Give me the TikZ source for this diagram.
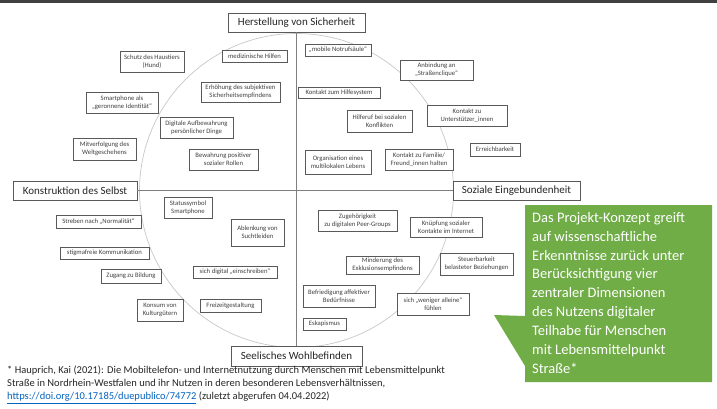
\documentclass[tikz,border=0pt]{standalone}
\usepackage{fontspec}
\setmainfont{Carlito}
\definecolor{boxline}{HTML}{595959}
\definecolor{axisgray}{HTML}{7F7F7F}
\definecolor{circgray}{HTML}{C8C8C8}
\definecolor{callgreen}{HTML}{70AD47}
\definecolor{maintext}{HTML}{262626}
\definecolor{smalltext}{HTML}{404040}
\definecolor{linkblue}{HTML}{0563C1}
\definecolor{topgray}{HTML}{404040}
\newcommand{\bxs}[6]{\node[smallbox, minimum width={#4pt-#2pt}, minimum height={#5pt-#3pt}] (#1) at ({(#2+#4)/2},{(#3+#5)/2}) {#6};}
\newcommand{\bxm}[6]{\node[mainbox, minimum width={#4pt-#2pt}, minimum height={#5pt-#3pt}] (#1) at ({(#2+#4)/2},{(#3+#5)/2}) {#6};}
\begin{document}
\begin{tikzpicture}[x=1pt,y=-1pt,
  mainbox/.style={draw=boxline, line width=0.8pt, fill=white, inner sep=0pt, font=\fontsize{11}{13}\selectfont, text=maintext},
  smallbox/.style={draw=boxline, line width=0.6pt, fill=white, inner sep=0pt, align=center, font=\fontsize{6.7}{8.1}\selectfont, text=smalltext},
  axisline/.style={draw=axisgray, line width=0.9pt},
  circline/.style={draw=circgray, line width=0.7pt},
  topline/.style={draw=topgray, line width=2.4pt},
  calltext/.style={inner sep=0pt, align=left, text=white, font=\fontsize{14.5}{18.9}\selectfont},
  foottext/.style={inner sep=0pt, align=left, text=maintext, font=\fontsize{10.5}{13}\selectfont}]
\useasboundingbox (0,0) rectangle (717,408);
\fill[white] (0,0) rectangle (717,408);
\coordinate (tl) at (0,1.5);
\coordinate (tr) at (717,1.5);
\draw[topline] (tl) -- (tr);
\coordinate (ctr) at (296.5,190.5);
\draw[circline] (ctr) circle[radius=157pt];
% main boxes
\bxm{hs}{228}{13}{365}{32}{Herstellung von Sicherheit}
\bxm{ks}{13}{181}{137}{200}{Konstruktion des Selbst}
\bxm{se}{453}{181}{580}{200}{Soziale Eingebundenheit}
\bxm{sw}{231}{346}{362}{366}{Seelisches Wohlbefinden}
\draw[axisline] (hs) -- (sw);
\draw[axisline] (ks) -- (se);
% upper left
\bxs{sch}{120}{51}{184}{72}{Schutz des Haustiers\\(Hund)}
\bxs{med}{222}{50}{287}{62}{medizinische Hilfen}
\bxs{sma}{86}{92}{158}{113}{Smartphone als\\„geronnene Identität“}
\bxs{erh}{201}{82}{280}{102}{Erhöhung des subjektiven\\Sicherheitsempfindens}
\bxs{dig}{160}{117}{233}{138}{Digitale Aufbewahrung\\persönlicher Dinge}
\bxs{mit}{73}{138}{136}{160}{Mitverfolgung des\\Weltgeschehens}
\bxs{bew}{189}{149}{258}{170}{Bewahrung positiver\\sozialer Rollen}
% upper right
\bxs{mob}{305}{44}{371}{56}{„mobile Notrufsäule“}
\bxs{anb}{400}{60}{473}{80}{Anbindung an\\„Straßenclique“}
\bxs{kon}{298}{87}{380}{98}{Kontakt zum Hilfesystem}
\bxs{hil}{347}{110}{412}{132}{Hilferuf bei sozialen\\Konflikten}
\bxs{kzu}{427}{105}{507}{126}{Kontakt zu\\Unterstützer\_innen}
\bxs{err}{470}{143}{520}{156}{Erreichbarkeit}
\bxs{org}{305}{150}{371}{174}{Organisation eines\\multilokalen Lebens}
\bxs{kfa}{385}{149}{453}{170}{Kontakt zu Familie/\\Freund\_innen halten}
% lower left
\bxs{sta}{164}{197}{212}{218}{Statussymbol\\Smartphone}
\bxs{str}{56}{215}{141}{228}{Streben nach „Normalität“}
\bxs{abl}{231}{219}{284}{246}{Ablenkung von\\Suchtleiden}
\bxs{stg}{60}{247}{149}{259}{stigmafreie Kommunikation}
\bxs{zug}{101}{269}{161}{283}{Zugang zu Bildung}
\bxs{sdi}{193}{266}{277}{278}{sich digital „einschreiben“}
\bxs{kul}{137}{299}{183}{321}{Konsum von\\Kulturgütern}
\bxs{fre}{200}{299}{261}{312}{Freizeitgestaltung}
% lower right
\bxs{zgh}{318}{210}{397}{231}{Zugehörigkeit\\zu digitalen Peer-Groups}
\bxs{knu}{410}{217}{482}{237}{Knüpfung sozialer\\Kontakte im Internet}
\bxs{min}{346}{256}{419}{274}{Minderung des\\Exklusionsempfindens}
\bxs{ste}{440}{253}{513}{275}{Steuerbarkeit\\belasteter Beziehungen}
\bxs{bef}{303}{285}{375}{307}{Befriedigung affektiver\\Bedürfnisse}
\bxs{wen}{397}{293}{469}{315}{sich „weniger alleine“\\fühlen}
\bxs{esk}{303}{318}{346}{330}{Eskapismus}
% callout
\fill[callgreen] (525,205) -- (712,205) -- (712,382) -- (525,382) -- (525,366) -- (494,315) -- (525,316) -- cycle;
\node[calltext, anchor=north west] (cl) at (532,212) {Das Projekt-Konzept greift\\auf wissenschaftliche\\Erkenntnisse zurück unter\\Berücksichtigung vier\\zentraler Dimensionen\\des Nutzens digitaler\\Teilhabe für Menschen\\mit Lebensmittelpunkt\\Straße*};
% footnote
\node[foottext, anchor=north west] (fn) at (7,366) {* Hauprich, Kai (2021): Die Mobiltelefon- und Internetnutzung durch Menschen mit Lebensmittelpunkt\\Straße in Nordrhein-Westfalen und ihr Nutzen in deren besonderen Lebensverhältnissen,\\\textcolor{linkblue}{\underline{https://doi.org/10.17185/duepublico/74772}} (zuletzt abgerufen 04.04.2022)};
\end{tikzpicture}
\end{document}
